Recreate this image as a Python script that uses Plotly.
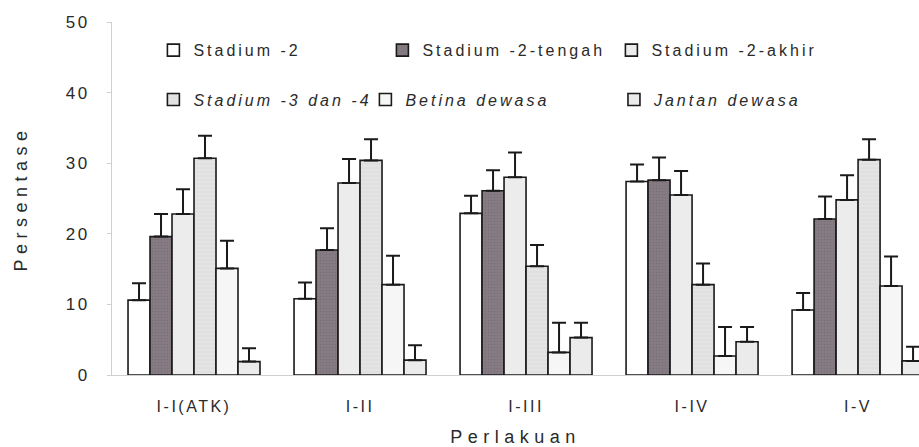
import plotly.graph_objects as go

# Treatments (x categories)
perlakuan = ["I-I(ATK)", "I-II", "I-III", "I-IV", "I-V"]

# Stage names (series)
stadium = [
    "Stadium -2",
    "Stadium -2-tengah",
    "Stadium -2-akhir",
    "Stadium -3 dan -4",
    "Betina dewasa",
    "Jantan dewasa",
]

# Mean percentage per stage, one list per series (order follows perlakuan)
stadium_2 = [10.6, 10.8, 22.9, 27.4, 9.2]
stadium_2_tengah = [19.6, 17.7, 26.1, 27.6, 22.1]
stadium_2_akhir = [22.8, 27.2, 28.0, 25.5, 24.8]
stadium_3_4 = [30.7, 30.4, 15.4, 12.8, 30.5]
betina_dewasa = [15.1, 12.8, 3.2, 2.7, 12.6]
jantan_dewasa = [1.9, 2.1, 5.3, 4.7, 2.0]

# Standard errors (upper whiskers only)
err_stadium_2 = [2.4, 2.3, 2.5, 2.4, 2.4]
err_stadium_2_tengah = [3.2, 3.1, 2.9, 3.2, 3.2]
err_stadium_2_akhir = [3.5, 3.4, 3.5, 3.4, 3.5]
err_stadium_3_4 = [3.2, 3.0, 3.0, 3.0, 2.9]
err_betina_dewasa = [3.9, 4.1, 4.2, 4.1, 4.2]
err_jantan_dewasa = [1.9, 2.1, 2.1, 2.1, 2.0]

y_ticks = [0, 10, 20, 30, 40, 50]

values = [stadium_2, stadium_2_tengah, stadium_2_akhir,
          stadium_3_4, betina_dewasa, jantan_dewasa]
errors = [err_stadium_2, err_stadium_2_tengah, err_stadium_2_akhir,
          err_stadium_3_4, err_betina_dewasa, err_jantan_dewasa]

fills = ["#ffffff", "#877d84", "#ececec", "#e4e4e4", "#f6f6f6", "#ebebeb"]
patterns = [None, dict(shape=".", fgcolor="#6f6570", size=3, solidity=0.35),
            None, dict(shape="-", fgcolor="#d2d2d2", size=4, solidity=0.25),
            None, None]
legend_ids = ["legend", "legend", "legend", "legend2", "legend2", "legend3"]

fig = go.Figure()
for name, vals, errs, fill, pat, lg in zip(stadium, values, errors, fills,
                                           patterns, legend_ids):
    marker = dict(color=fill, line=dict(color="#1a1a1a", width=1.6))
    if pat:
        marker["pattern"] = pat
    fig.add_trace(go.Bar(
        x=list(range(len(perlakuan))), y=vals, name=name,
        marker=marker, legend=lg,
        error_y=dict(type="data", array=errs, arrayminus=[0] * len(errs),
                     symmetric=False, color="#1a1a1a", thickness=2, width=7),
    ))

font_main = "Liberation Sans, Arial, sans-serif"
legend_common = dict(orientation="h", xanchor="left", yanchor="middle",
                     entrywidthmode="pixels", bgcolor="rgba(0,0,0,0)",
                     itemclick=False, itemdoubleclick=False)
upright = dict(size=16)
slanted = dict(size=16, style="italic")

fig.update_layout(
    width=919, height=447,
    margin=dict(l=112, r=0, t=22, b=72),
    paper_bgcolor="white", plot_bgcolor="white",
    barmode="group", bargap=0.205, bargroupgap=0,
    font=dict(family=font_main, color="#2a2a2a", size=16),
    legend=dict(x=0.0513, y=0.92, entrywidth=184, font=upright,
                **legend_common),
    legend2=dict(x=0.0513, y=0.78, entrywidth=167, font=slanted,
                 **legend_common),
    legend3=dict(x=0.622, y=0.78, entrywidth=189, font=slanted,
                 **legend_common),
    xaxis=dict(
        tickmode="array", tickvals=list(range(len(perlakuan))),
        ticktext=perlakuan, range=[-0.494, 4.367],
        showline=True, linecolor="#d0d0d0", linewidth=1,
        ticks="", showgrid=False, zeroline=False,
        tickfont=dict(size=16), ticklabelstandoff=17,
        title=dict(text="Perlakuan", font=dict(size=18), standoff=16),
    ),
    yaxis=dict(
        range=[0, 50], tickvals=y_ticks,
        showline=True, linecolor="#d0d0d0", linewidth=1,
        ticks="outside", ticklen=4, tickcolor="#d0d0d0",
        showgrid=False, zeroline=False,
        tickfont=dict(size=17), ticklabelstandoff=14,
        title=dict(text="Persentase", font=dict(size=18), standoff=38),
    ),
    showlegend=True,
)

# Wide letter spacing for all chart text, via a stylesheet so it also
# covers elements that plotly draws or redraws later.
spacing_js = """
var css = document.createElement('style');
css.textContent =
  '.infolayer g[class^="legend"] text { letter-spacing: 3px !important; }' +
  'svg text[style*="italic"] { letter-spacing: 3px !important; }' +
  '.xtick text, .ytick text { letter-spacing: 2.5px !important; }' +
  '.g-xtitle text, .g-ytitle text { letter-spacing: 5.5px !important; }';
document.head.appendChild(css);
function spreadAttr() {
  document.querySelectorAll('.infolayer text.legendtext').forEach(function(t) {
    t.setAttribute('letter-spacing', '3');
    t.style.setProperty('letter-spacing', '3px', 'important');
  });
}
spreadAttr();
setTimeout(spreadAttr, 30);
setTimeout(spreadAttr, 200);
"""

fig.write_html("out.html", post_script=spacing_js)
